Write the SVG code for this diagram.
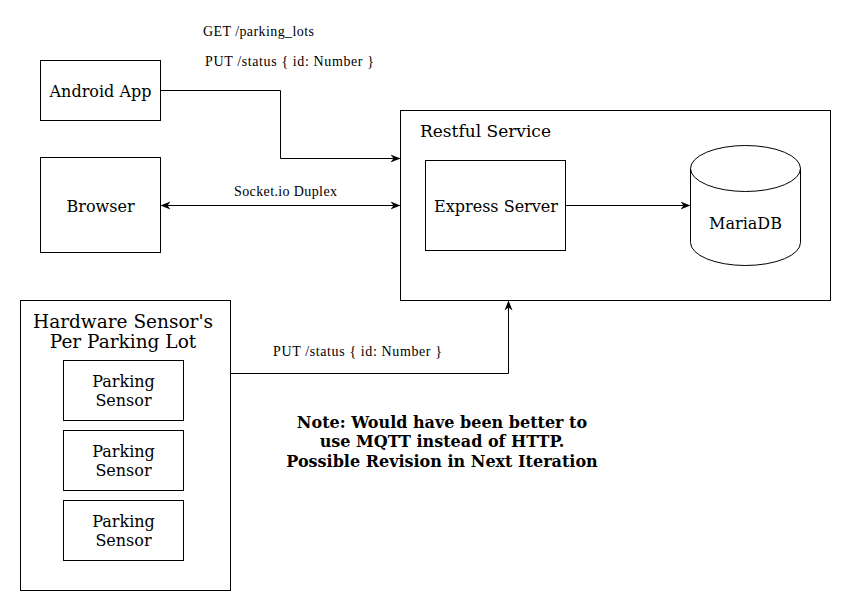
<svg xmlns="http://www.w3.org/2000/svg" width="851" height="611" viewBox="0 0 851 611">
<defs>
<style>
.box{fill:#fff;stroke:#000;stroke-width:1}
.lbl{font-family:"DejaVu Serif","Liberation Serif",serif;font-size:16px;fill:#000;text-anchor:middle}
.el{font-family:"Liberation Serif","Times New Roman",serif;font-size:14px;fill:#000}
.note{font-family:"DejaVu Serif","Liberation Serif",serif;font-size:16px;font-weight:bold;fill:#000;text-anchor:middle}
.con{fill:none;stroke:#000;stroke-width:1}
</style>
<marker id="ah" viewBox="0 0 10 10" refX="9" refY="5" markerWidth="10" markerHeight="10" markerUnits="userSpaceOnUse" orient="auto-start-reverse">
<path d="M0,1 L10,5 L0,9 L3,5 Z" fill="#000"/>
</marker>
</defs>
<rect width="851" height="611" fill="#fff"/>
<g id="restful">
<rect class="box" x="400.5" y="110.5" width="430" height="190"/>
<text class="lbl" x="420" y="137" style="text-anchor:start;font-size:17px">Restful Service</text>
</g>
<g id="android">
<rect class="box" x="40.5" y="60.5" width="120" height="60"/>
<text class="lbl" x="100.5" y="97">Android App</text>
</g>
<g id="browser">
<rect class="box" x="40.5" y="157.5" width="120" height="95"/>
<text class="lbl" x="100.5" y="212">Browser</text>
</g>
<g id="express">
<rect class="box" x="425.5" y="160.5" width="140" height="90"/>
<text class="lbl" x="496" y="212">Express Server</text>
</g>
<g id="mariadb">
<path class="box" d="M690.5,168.5 A55,23 0 0 1 800.5,168.5 L800.5,242.5 A55,23 0 0 1 690.5,242.5 Z"/>
<path class="con" d="M690.5,168.5 A55,23 0 0 0 800.5,168.5"/>
<text class="lbl" x="745.5" y="229">MariaDB</text>
</g>
<g id="hardware">
<rect class="box" x="20.5" y="300.5" width="210" height="290"/>
<text class="lbl" x="123" y="328" style="font-size:18.5px">Hardware Sensor's</text>
<text class="lbl" x="123" y="348" style="font-size:18.5px">Per Parking Lot</text>
</g>
<g id="sensor1">
<rect class="box" x="63.5" y="360.5" width="120" height="60"/>
<text class="lbl" x="123.5" y="387">Parking</text>
<text class="lbl" x="123.5" y="406">Sensor</text>
</g>
<g id="sensor2">
<rect class="box" x="63.5" y="430.5" width="120" height="60"/>
<text class="lbl" x="123.5" y="457">Parking</text>
<text class="lbl" x="123.5" y="476">Sensor</text>
</g>
<g id="sensor3">
<rect class="box" x="63.5" y="500.5" width="120" height="60"/>
<text class="lbl" x="123.5" y="527">Parking</text>
<text class="lbl" x="123.5" y="546">Sensor</text>
</g>
<g id="connectors">
<path class="con" d="M160.5,90.5 H280.5 V158.5 H399.5" marker-end="url(#ah)"/>
<path class="con" d="M161.5,205.5 H399.5" marker-start="url(#ah)" marker-end="url(#ah)"/>
<path class="con" d="M565.5,205.5 H689.5" marker-end="url(#ah)"/>
<path class="con" d="M230.5,373.5 H508.5 V301.5" marker-end="url(#ah)"/>
<text class="el" x="203" y="36" textLength="111" lengthAdjust="spacing">GET /parking_lots</text>
<text class="el" x="205" y="66" textLength="169" lengthAdjust="spacing">PUT /status { id: Number }</text>
<text class="el" x="234" y="196" textLength="103" lengthAdjust="spacing">Socket.io Duplex</text>
<text class="el" x="273" y="356" textLength="169" lengthAdjust="spacing">PUT /status { id: Number }</text>
</g>
<g id="note">
<text class="note" x="442" y="428">Note: Would have been better to</text>
<text class="note" x="442" y="447">use MQTT instead of HTTP.</text>
<text class="note" x="442" y="467">Possible Revision in Next Iteration</text>
</g>
</svg>
